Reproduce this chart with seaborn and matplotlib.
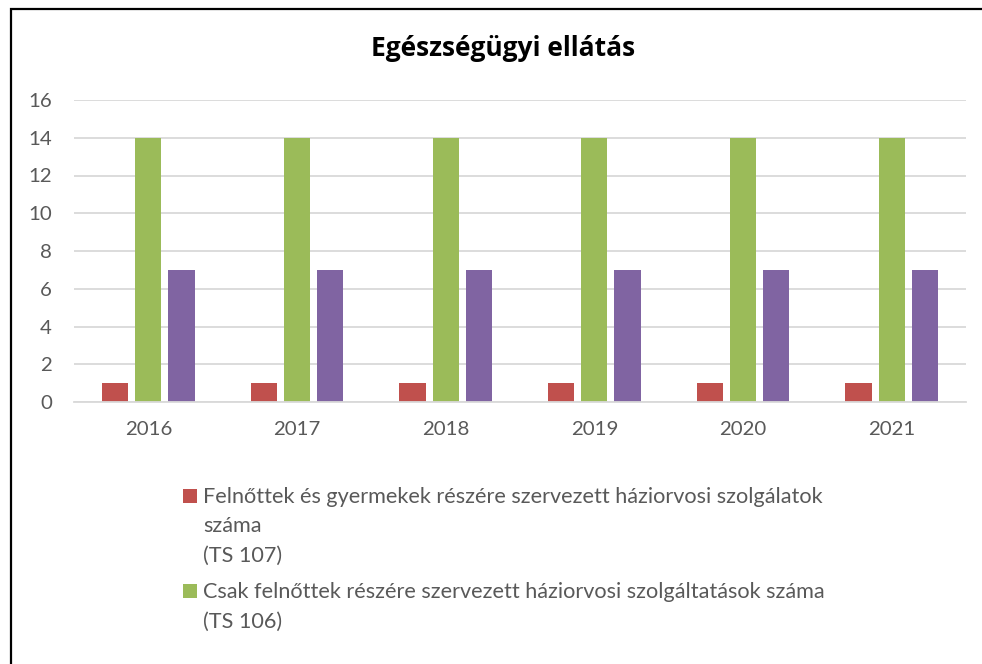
import pandas as pd
import matplotlib
matplotlib.use("Agg")
import matplotlib.pyplot as plt
from matplotlib.patches import Rectangle
import seaborn as sns

# Data
years = ["2016", "2017", "2018", "2019", "2020", "2021"]
ts107 = [1, 1, 1, 1, 1, 1]
ts106 = [14, 14, 14, 14, 14, 14]
ts_other = [7, 7, 7, 7, 7, 7]

series_names = [
    "Felnőttek és gyermekek részére szervezett háziorvosi szolgálatok\nszáma\n(TS 107)",
    "Csak felnőttek részére szervezett háziorvosi szolgáltatások száma\n(TS 106)",
    "Egyéb",
]
colors = ["#c0504d", "#9bbb59", "#8064a2"]

df = pd.DataFrame({
    "year": years * 3,
    "value": ts107 + ts106 + ts_other,
    "series": [series_names[0]] * 6 + [series_names[1]] * 6 + [series_names[2]] * 6,
})

sns.set_theme(style="white")
plt.rcParams["font.family"] = ["Lato", "DejaVu Sans"]

TEXT = "#595959"
GRID = "#d9d9d9"
W, H = 982, 664


def fx(px):
    return px / W


def fy(py):
    return 1 - py / H


fig = plt.figure(figsize=(9.82, 6.64), dpi=100)
ax = fig.add_axes([fx(74), fy(402), 892 / W, 302 / H])

sns.barplot(
    data=df, x="year", y="value", hue="series",
    palette=dict(zip(series_names, colors)), saturation=1,
    width=0.67, gap=0.21, legend=False, linewidth=0, ax=ax,
)

ax.set_ylim(0, 16)
ax.set_yticks(range(0, 17, 2))
ax.yaxis.grid(True, color=GRID, linewidth=1.3)
ax.set_axisbelow(True)
for side in ["top", "right", "left"]:
    ax.spines[side].set_visible(False)
ax.spines["bottom"].set_color(GRID)
ax.spines["bottom"].set_linewidth(1.3)
ax.tick_params(axis="y", length=0, labelsize=14.7, labelcolor=TEXT, pad=16)
ax.tick_params(axis="x", length=0, labelsize=14.7, labelcolor=TEXT, pad=14)
ax.set_xlabel("")
ax.set_ylabel("")

fig.text(fx(503), fy(56), "Egészségügyi ellátás", ha="center", va="baseline",
         fontsize=19, fontweight="bold", color="black", family=["Open Sans"])

# legend (only the first two series are visible in the original)
legend_rows = [503, 598]
for name, color, first in zip(series_names[:2], colors[:2], legend_rows):
    lines = name.split("\n")
    fig.patches.append(Rectangle((fx(183), fy(first)), 14 / W, 14 / H,
                                 transform=fig.transFigure, facecolor=color,
                                 edgecolor="none"))
    for i, line in enumerate(lines):
        fig.text(fx(203), fy(first + i * 29.5), line, ha="left", va="baseline",
                 fontsize=15.6, color=TEXT)

# outer chart border (right and bottom edges lie outside the image)
fig.patches.append(Rectangle((fx(10.5), -0.1), 1.2, 0.1 + fy(8.5),
                             transform=fig.transFigure, fill=False,
                             edgecolor="black", linewidth=1.6))

fig.savefig("out.png", dpi=100, facecolor="white")
